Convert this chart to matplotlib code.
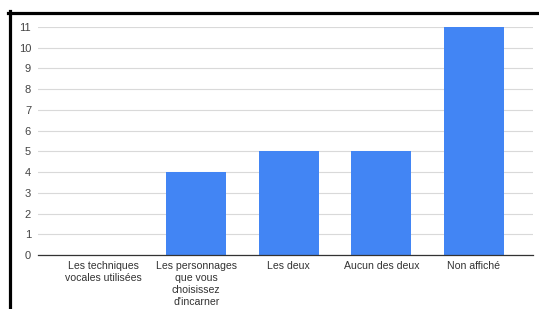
import matplotlib.pyplot as plt
from matplotlib.lines import Line2D

categories = ["Les techniques\nvocales utilisées",
              "Les personnages\nque vous\nchoisissez\nd'incarner",
              "Les deux", "Aucun des deux", "Non affiché"]
values = [0, 4, 5, 5, 11]
yticks = list(range(0, 12))

plt.rcParams['font.family'] = ['Liberation Sans', 'DejaVu Sans']

W, H = 539, 309
fig = plt.figure(figsize=(W / 100, H / 100), dpi=100)
ax = fig.add_axes([38 / W, 1 - 255 / H, (533 - 38) / W, (255 - 27) / H])

x = range(len(categories))
ax.bar(x, values, width=0.65, color='#4285f4', zorder=3)
ax.set_xlim(-0.71, 4.64)
ax.set_ylim(0, 11)
ax.set_yticks(yticks)
ax.set_yticklabels([str(v) for v in yticks], fontsize=8, color='#444444')
ax.set_xticks(list(x))
ax.set_xticklabels(categories, fontsize=7.6, color='#333333', linespacing=1.25)
ax.tick_params(axis='x', length=0, pad=4)
ax.tick_params(axis='y', length=0, pad=5)
ax.grid(axis='y', color='#d9d9d9', linewidth=0.8, zorder=0)
for s in ['top', 'right', 'left']:
    ax.spines[s].set_visible(False)
ax.spines['bottom'].set_color('#333333')
ax.spines['bottom'].set_linewidth(0.9)
ax.spines['bottom'].set_zorder(4)

# black frame of the screenshot (left and top)
fig.add_artist(Line2D([9.5 / W, 9.5 / W], [0, 1 - 11 / H], color='black', linewidth=2.3,
                      transform=fig.transFigure))
fig.add_artist(Line2D([8 / W, 1], [1 - 12.5 / H, 1 - 12.5 / H], color='black', linewidth=2.3,
                      transform=fig.transFigure))

fig.savefig('out.png', dpi=100)
